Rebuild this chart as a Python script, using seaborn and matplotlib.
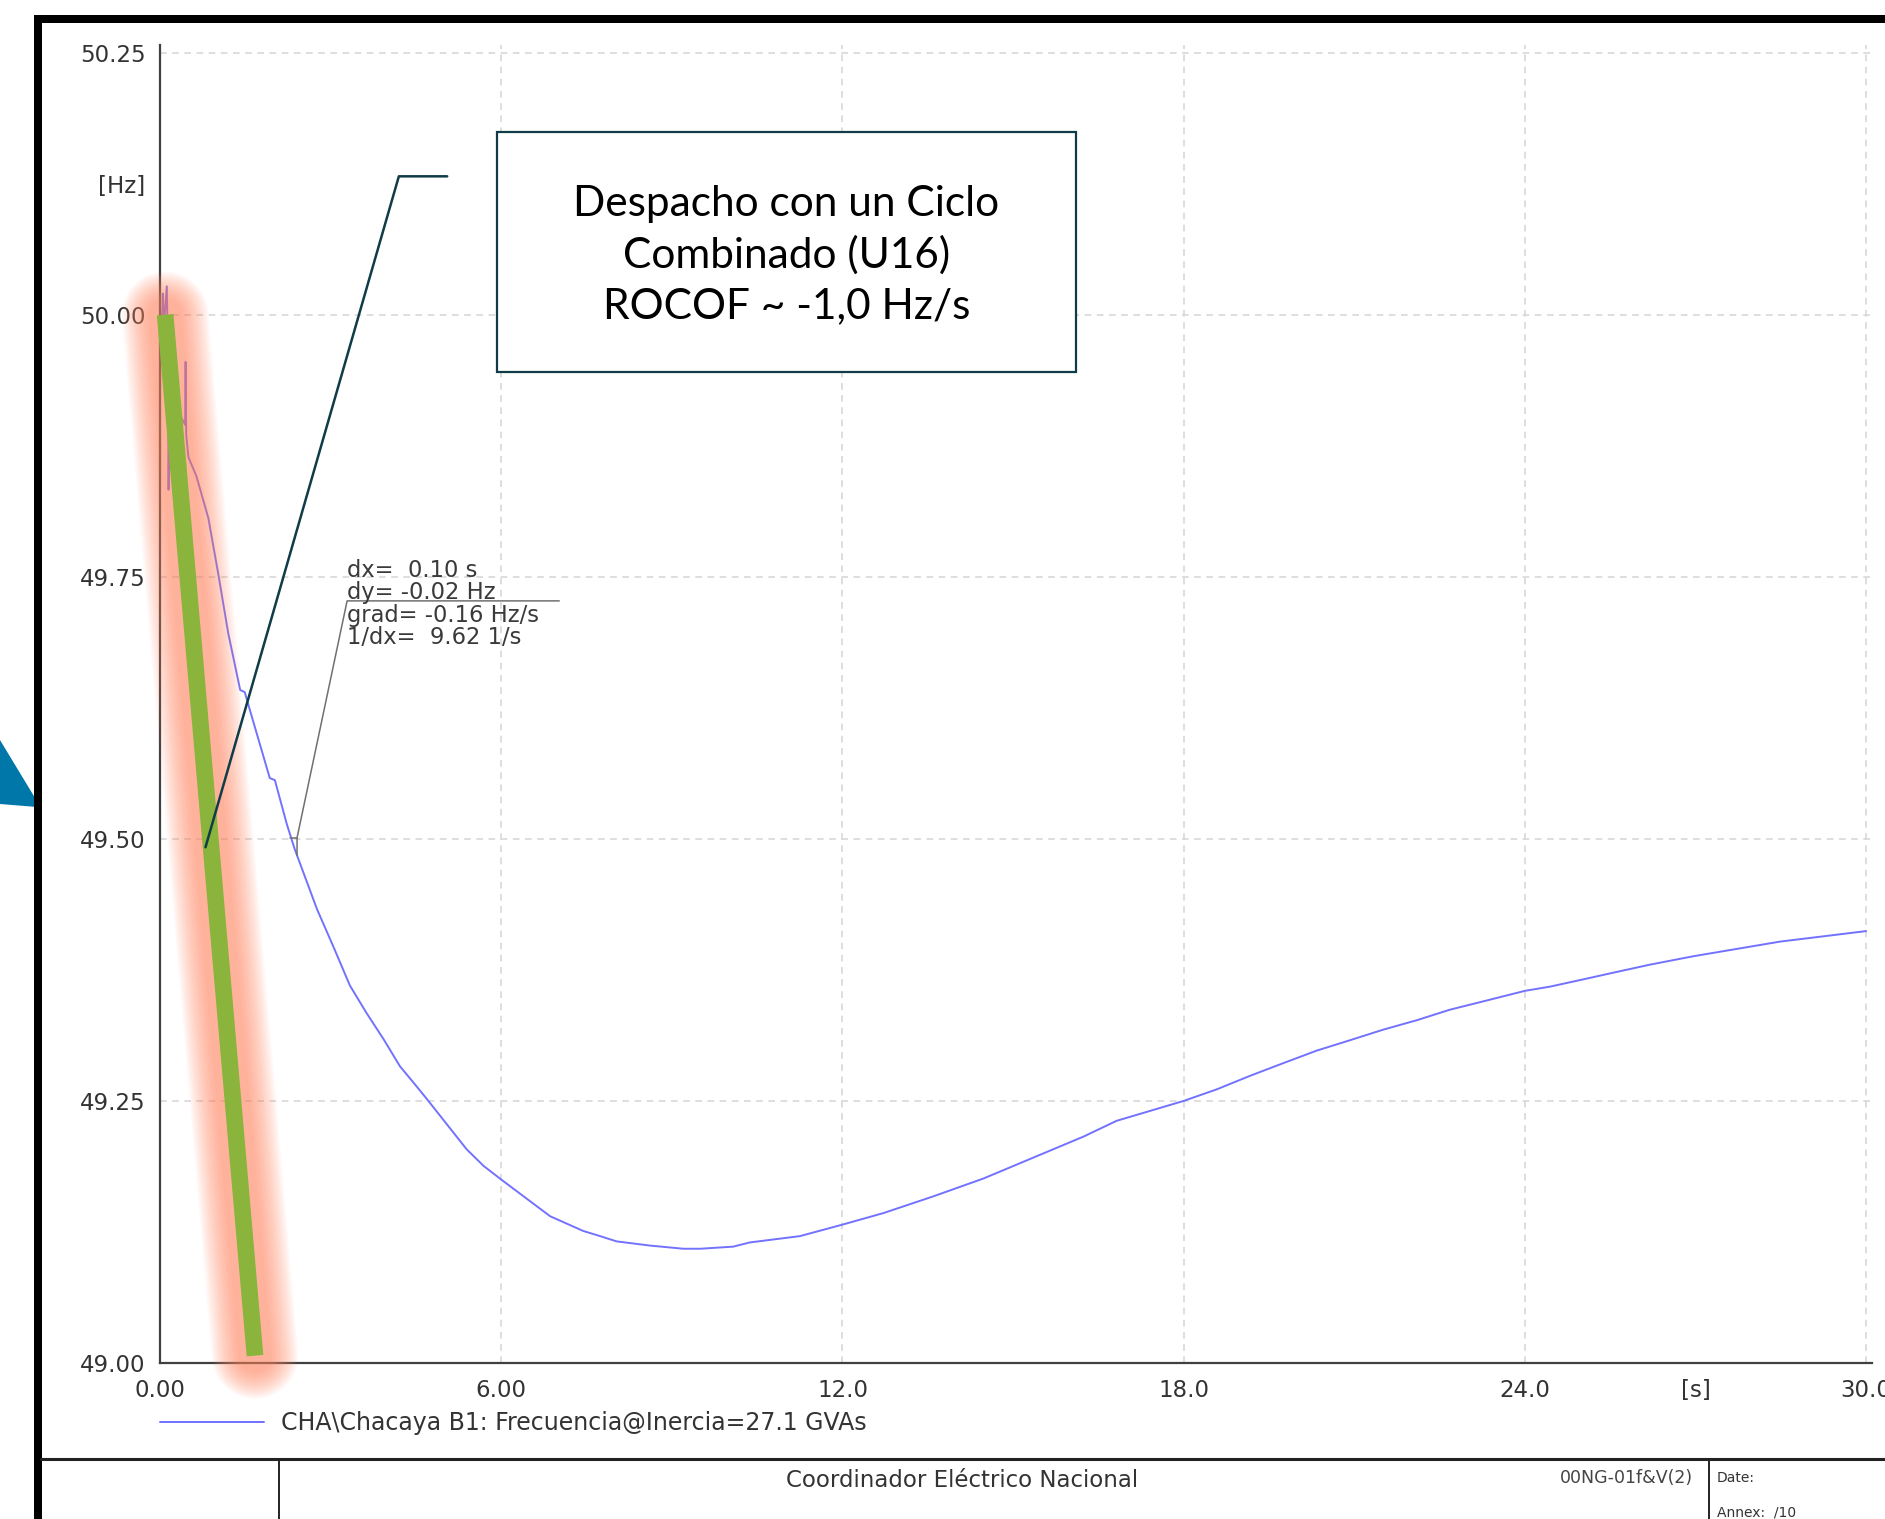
import numpy as np
import pandas as pd
import matplotlib
matplotlib.use("Agg")
import matplotlib.pyplot as plt
import seaborn as sns
from matplotlib.patches import Rectangle, Polygon
from matplotlib.lines import Line2D

# ---------------- data ----------------
time_s = [0.00, 0.04, 0.05, 0.07, 0.12, 0.14, 0.15, 0.17, 0.30, 0.44, 0.45, 0.46,
          0.50, 0.64, 0.85, 1.03, 1.20, 1.41, 1.49, 1.58, 1.93, 2.02, 2.23, 2.37,
          2.76, 3.05, 3.34, 3.63, 3.93, 4.22, 4.51, 4.69, 5.39, 5.69, 6.00, 6.27,
          6.86, 7.44, 7.74, 8.03, 8.62, 9.20, 9.50, 10.08, 10.37, 11.25, 12.00,
          12.72, 13.60, 14.48, 15.36, 16.24, 16.82, 18.00, 18.58, 19.17, 19.75,
          20.34, 20.93, 21.51, 22.10, 22.68, 23.27, 24.00, 24.44, 25.03, 25.61,
          26.20, 26.96, 28.49, 30.00]
freq_hz = [50.000, 50.000, 50.020, 49.990, 50.027, 49.950, 49.833, 49.930, 49.910,
           49.895, 49.955, 49.886, 49.864, 49.846, 49.806, 49.751, 49.696, 49.642,
           49.640, 49.623, 49.558, 49.556, 49.514, 49.490, 49.433, 49.397, 49.360,
           49.334, 49.309, 49.283, 49.264, 49.252, 49.204, 49.188, 49.175, 49.164,
           49.140, 49.126, 49.121, 49.116, 49.112, 49.109, 49.109, 49.111, 49.115,
           49.121, 49.132, 49.143, 49.159, 49.176, 49.196, 49.216, 49.231, 49.250,
           49.261, 49.274, 49.286, 49.298, 49.308, 49.318, 49.327, 49.337, 49.345,
           49.355, 49.359, 49.366, 49.373, 49.380, 49.388, 49.402, 49.412]
series_label = "CHA\\Chacaya B1: Frecuencia@Inercia=27.1 GVAs"

x_major_ticks = [0, 6, 12, 18, 24, 30]
x_major_labels = ["0.00", "6.00", "12.0", "18.0", "24.0", "30.0"]
x_minor_ticks = [3, 9, 15, 21, 27]
x_minor_labels = ["", "", "", "", "[s]"]
y_major_ticks = [49.00, 49.25, 49.50, 49.75, 50.00, 50.25]
y_major_labels = ["49.00", "49.25", "49.50", "49.75", "50.00", "50.25"]
y_minor_ticks = [49.125, 49.375, 49.625, 49.875, 50.125]
y_minor_labels = ["", "", "", "", "[Hz]"]

# ROCOF tangent (green) and callouts
rocof_t = [0.09, 1.67]
rocof_f = [50.000, 49.007]
callout_t = [0.80, 4.20, 5.05]
callout_f = [49.492, 50.132, 50.132]
cursor_t = [7.02, 3.29, 2.41, 2.41]
cursor_f = [49.727, 49.727, 49.501, 49.484]
cursor_text = "dx=  0.10 s\ndy= -0.02 Hz\ngrad= -0.16 Hz/s\n1/dx=  9.62 1/s"
box_text = "Despacho con un Ciclo\nCombinado (U16)\nROCOF ~ -1,0 Hz/s"

footer_title = "Coordinador Eléctrico Nacional"
footer_code = "00NG-01f&V(2)"

# ---------------- figure ----------------
sns.set_style("white")
plt.rcParams["font.family"] = ["DejaVu Sans"]

W, H = 1885, 1519
fig = plt.figure(figsize=(W / 100, H / 100), dpi=100)
fig.patch.set_facecolor("white")


def P(x, y):
    return (x / W, 1 - y / H)


px_s = 56.87
px_hz = 1048.3
x_left, y_bottom = 160, 1363
xmax, ymin, ymax = 30.1, 49.0, 50.257
ax = fig.add_axes([x_left / W, (H - y_bottom) / H,
                   xmax * px_s / W, (ymax - ymin) * px_hz / H])
ax.set_facecolor("white")

df = pd.DataFrame({"t": time_s, "f": freq_hz})
curve_color = "#7272ff"
sns.lineplot(data=df, x="t", y="f", ax=ax, color=curve_color, linewidth=1.4,
             estimator=None, sort=False, label=series_label, zorder=2)

# soft glow around the ROCOF line
for w in np.linspace(62, 24, 16):
    ax.plot(rocof_t, rocof_f, color="#ff8560", alpha=0.055, linewidth=w,
            solid_capstyle="round", clip_on=False, zorder=3)
ax.plot(rocof_t, rocof_f, color="#8ab43b", linewidth=12,
        solid_capstyle="butt", clip_on=False, zorder=4)

# callout line (teal)
ax.plot(callout_t, callout_f, color="#0f3c46", linewidth=1.8, zorder=5,
        clip_on=False)
# cursor annotation (grey)
ax.plot(cursor_t, cursor_f, color="#707070", linewidth=1.1, zorder=5)
ax.plot([2.29, 2.41], [49.501, 49.501], color="#707070", linewidth=1.1, zorder=5)
ax.text(3.29, 49.767, cursor_text, fontsize=16.3, color="#3a3a3a", va="top",
        ha="left", linespacing=0.97, zorder=6)

ax.set_xlim(0, xmax)
ax.set_ylim(ymin, ymax)
ax.set_xticks(x_major_ticks, labels=x_major_labels)
ax.set_xticks(x_minor_ticks, labels=x_minor_labels, minor=True)
ax.set_yticks(y_major_ticks, labels=y_major_labels)
ax.set_yticks(y_minor_ticks, labels=y_minor_labels, minor=True)
ax.set_xlabel("")
ax.set_ylabel("")

ax.grid(True, which="major", color="#d8d8d8", linestyle=(0, (4, 3.3)),
        linewidth=1.2, zorder=0)
ax.set_axisbelow(True)
for s in ["top", "right"]:
    ax.spines[s].set_visible(False)
for s in ["left", "bottom"]:
    ax.spines[s].set_color("#404040")
    ax.spines[s].set_linewidth(1.6)
ax.tick_params(axis="both", which="both", direction="in", colors="#404040",
               labelcolor="#333333", labelsize=16.5, width=1.3)
ax.tick_params(which="major", length=8.6)
ax.tick_params(which="minor", length=5.5)
ax.tick_params(axis="y", which="both", pad=10.5)
ax.tick_params(axis="x", which="both", pad=11.5)

h, l = ax.get_legend_handles_labels()
ax.legend(h, l, loc="center left", bbox_to_anchor=P(160, 1423),
          bbox_transform=fig.transFigure, frameon=False, fontsize=17,
          handlelength=4.4, handletextpad=0.72, borderpad=0, borderaxespad=0,
          labelcolor="#333333")

# text box
bx0, by0, bx1, by1 = 496.5, 132, 1076, 371.5
fig.add_artist(Rectangle(P(bx0, by1), (bx1 - bx0) / W, (by1 - by0) / H,
                         transform=fig.transFigure, facecolor="white",
                         edgecolor="#0f3c46", linewidth=1.6, zorder=10))
fig.text(*P((bx0 + bx1) / 2, 255), box_text, ha="center", va="center",
         fontsize=30.5, family=["Lato", "DejaVu Sans"], color="black",
         linespacing=1.38, zorder=11)

# outer slide frame
fig.add_artist(Rectangle(P(33.5, H), 8 / W, (H - 15) / H, transform=fig.transFigure,
                         facecolor="black", edgecolor="none", zorder=20))
fig.add_artist(Rectangle(P(33.5, 23), (W - 33.5) / W, 8 / H,
                         transform=fig.transFigure, facecolor="black",
                         edgecolor="none", zorder=20))
fig.add_artist(Polygon([P(0, 740), P(40.7, 807.3), P(0, 804)], closed=True,
                       transform=fig.transFigure, facecolor="#0077a9",
                       edgecolor="none", zorder=19))

# footer
fig.add_artist(Line2D([41 / W, 1], [1 - 1458.5 / H] * 2, transform=fig.transFigure,
                      color="#222222", linewidth=2.2, zorder=20))
for xv in [279, 1709]:
    fig.add_artist(Line2D([xv / W] * 2, [1 - 1458.5 / H, 0], transform=fig.transFigure,
                          color="#222222", linewidth=1.4, zorder=20))
fig.text(*P(962, 1480.5), footer_title, ha="center", va="center", fontsize=16.5,
         color="#333333")
fig.text(*P(1693, 1478), footer_code, ha="right", va="center", fontsize=12.5,
         color="#444444")
fig.text(*P(1717, 1478), "Date:", ha="left", va="center", fontsize=10,
         color="#333333")
fig.text(*P(1717, 1512), "Annex:  /10", ha="left", va="center", fontsize=10,
         color="#333333")

fig.savefig("out.png", dpi=100)
